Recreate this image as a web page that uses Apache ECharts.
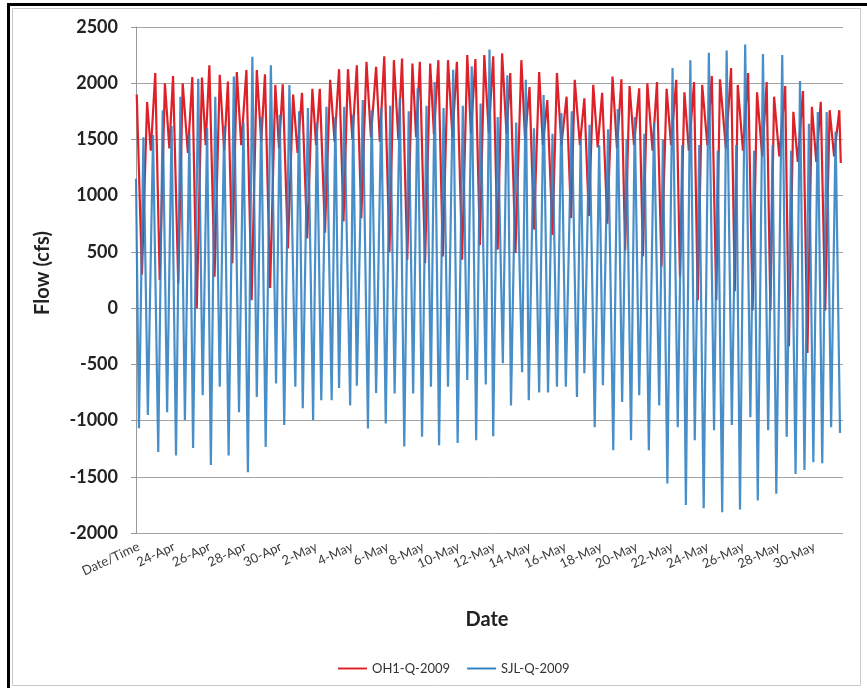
<!DOCTYPE html>
<html>
<head>
<meta charset="utf-8">
<script src="https://cdn.jsdelivr.net/npm/echarts@6/dist/echarts.min.js"></script>
<style>html,body{margin:0;padding:0;background:#fff;}#c{width:867px;height:688px;}</style>
</head>
<body>
<div id="c"></div>
<script>
// X tick labels, one every 48 hours
const tickLabels = ["Date/Time","24-Apr","26-Apr","28-Apr","30-Apr","2-May","4-May","6-May","8-May","10-May","12-May","14-May","16-May","18-May","20-May","22-May","24-May","26-May","28-May","30-May"];
const seriesNames = ["OH1-Q-2009","SJL-Q-2009"];

// OH1-Q-2009: hour of record and flow (cfs) at the peaks and troughs
const redHours = [1,8,15,20,26,32,39,45,50,57,63,70,76,82,89,94,99,106,113,119,124,130,136,142,149,156,163,169,174,181,188,193,198,205,212,218,224,231,238,243,248,255,262,268,274,280,286,292,298,304,311,317,324,329,335,342,348,354,359,366,373,378,383,390,397,402,408,414,421,427,433,440,447,452,458,464,470,476,482,488,494,500,505,512,520,525,531,537,544,549,555,562,568,574,581,587,592,599,605,611,617,623,629,636,643,649,655,660,666,672,679,684,690,697,703,709,716,722,729,734,740,746,753,758,764,771,777,783,788,796,803,808,812,819,826,832,838,845,851,856,861,868,876,881,887,893,900,906,912,918,924,930,936,942,949,951];
const redValues = [1900,300,1833,1400,2090,250,2000,1420,2064,220,2000,1380,2055,0,2050,1450,2160,280,2075,1400,2015,400,2100,1450,2117,70,2117,1480,2080,180,1985,1420,1990,530,1900,1380,1915,620,1950,1450,1950,670,2030,1480,2125,770,2125,1500,2160,800,2190,1520,2145,1480,2240,500,2205,1500,2220,430,2175,1520,2190,400,2175,1550,2205,460,2205,1520,2190,430,2250,1550,2215,560,2250,1560,2240,520,2265,1550,2090,490,2205,1500,1965,700,2100,1450,1850,650,2090,1450,1880,800,2030,1450,1865,820,1985,1430,1915,750,2060,1420,2035,515,1975,1450,1955,460,2000,1400,2010,370,1950,1450,2030,280,1920,1400,2010,70,1985,1450,2065,70,2035,1420,2135,150,1985,1400,2090,-20,1920,1350,2010,-20,1880,1350,1975,-340,1745,1300,1930,-400,1790,1300,1835,-20,1760,1350,1760,1290];

// SJL-Q-2009
const blueHours = [0,4,10,16,23,30,36,42,48,54,60,66,72,77,84,90,96,101,107,113,119,125,132,139,145,151,157,163,169,175,182,189,194,200,207,215,220,225,232,239,244,250,257,264,269,274,281,289,293,298,306,313,318,324,331,337,343,349,356,362,368,374,380,386,392,398,403,409,415,421,428,434,441,447,453,459,465,472,477,482,488,495,501,506,513,521,526,530,537,544,550,556,562,568,574,580,588,595,600,605,612,619,625,630,637,644,650,656,662,668,673,679,686,692,699,706,711,717,724,731,737,742,748,754,760,766,773,780,785,791,797,804,810,815,822,829,834,839,846,853,859,864,872,878,884,890,896,902,908,914,920,926,932,938,944,950];
const blueValues = [1150,-1068,1520,-950,1540,-1280,1760,-925,1620,-1310,1880,-995,1550,-1245,2040,-775,1600,-1395,1880,-700,1620,-1310,2060,-925,1650,-1460,2235,-790,1700,-1235,2160,-670,1720,-1040,1985,-700,1750,-890,1780,-995,1650,-820,1790,-820,1700,-710,1790,-865,1720,-690,1850,-1070,1760,-755,1780,-1025,1800,-760,1870,-1230,1750,-760,1955,-1145,1800,-700,2010,-1220,1780,-700,2120,-1200,1800,-640,2150,-1175,1820,-680,2300,-1140,1700,-490,2070,-865,1650,-570,2030,-820,1600,-750,1895,-750,1550,-700,1735,-700,1750,-790,1500,-580,1630,-1060,1450,-685,1590,-1265,1770,-835,1500,-1175,1700,-775,1550,-1265,1650,-865,1500,-1560,2135,-1060,1450,-1750,2205,-1175,1450,-1780,2270,-1085,1400,-1815,2290,-1040,1450,-1790,2345,-970,1400,-1710,2260,-1085,1450,-1650,2250,-1145,1400,-1475,2020,-1440,1640,-1370,1745,-1380,1745,-1060,1570,-1110];

const RED = '#de2128';
const BLUE = '#2f80c2';
const FONT = 'Lato, "Open Sans", sans-serif';
const LINE_ICON = 'path://M0,0L30,0L30,2L0,2Z';

const chart = echarts.init(document.getElementById('c'), null, {renderer:'canvas'});
const option = {
  animation: false,
  backgroundColor: '#ffffff',
  grid: {left:136, right:24, top:27, bottom:155},
  xAxis: {
    type:'value', min:0, max:954, interval:48,
    axisLine:{show:false}, axisTick:{show:false}, splitLine:{show:false},
    axisLabel:{
      rotate:25, margin:7, fontSize:13, color:'#3a3a3a', fontFamily:FONT,
      verticalAlign:'top',
      showMaxLabel:false,
      formatter:function(v){ const i = Math.round(v/48); return (Math.abs(v - i*48) < 0.01 && i < tickLabels.length) ? tickLabels[i] : ''; }
    }
  },
  yAxis: {
    type:'value', min:-2000, max:2500, interval:500,
    axisLine:{show:true, lineStyle:{color:'#9a9a9a', width:1}},
    axisTick:{show:true, length:5, lineStyle:{color:'#9a9a9a'}},
    splitLine:{show:true, lineStyle:{color:'#a4a4a4', width:1}},
    axisLabel:{fontSize:18, fontWeight:'bold', color:'#222', margin:18, fontFamily:FONT,
      formatter:function(v){ return String(v); }}
  },
  legend: {
    data: seriesNames.map((n,i)=>({name:n, icon:LINE_ICON, itemStyle:{color: i===0?RED:BLUE}})),
    left:333, top:657, itemWidth:29, itemHeight:2, itemGap:17,
    textStyle:{fontSize:13, color:'#333', fontFamily:FONT}
  },
  series: [
    {name:seriesNames[0], type:'line', symbol:'none', data: redHours.map((h,i)=>[h, redValues[i]]),
     lineStyle:{color:RED, width:2.2}, itemStyle:{color:RED}},
    {name:seriesNames[1], type:'line', symbol:'none', data: blueHours.map((h,i)=>[h, blueValues[i]]),
     lineStyle:{color:BLUE, width:2.2, opacity:0.88}, itemStyle:{color:BLUE}}
  ],
  graphic: [
    {type:'rect', shape:{x:12.5, y:8.5, width:848, height:677}, style:{fill:'none', stroke:'#c8c8c8', lineWidth:1}, silent:true},
    {type:'rect', shape:{x:7, y:3, width:3, height:685}, style:{fill:'#000'}, silent:true},
    {type:'rect', shape:{x:7, y:3, width:860, height:3}, style:{fill:'#000'}, silent:true},
    {type:'text', x:43, y:273, rotation:Math.PI/2, style:{text:'Flow (cfs)', font:'bold 20px ' + FONT, fill:'#222', align:'center', verticalAlign:'middle'}},
    {type:'text', x:487, y:620, style:{text:'Date', font:'bold 20px ' + FONT, fill:'#222', align:'center', verticalAlign:'middle'}}
  ]
};
chart.setOption(option);
</script>
</body>
</html>
